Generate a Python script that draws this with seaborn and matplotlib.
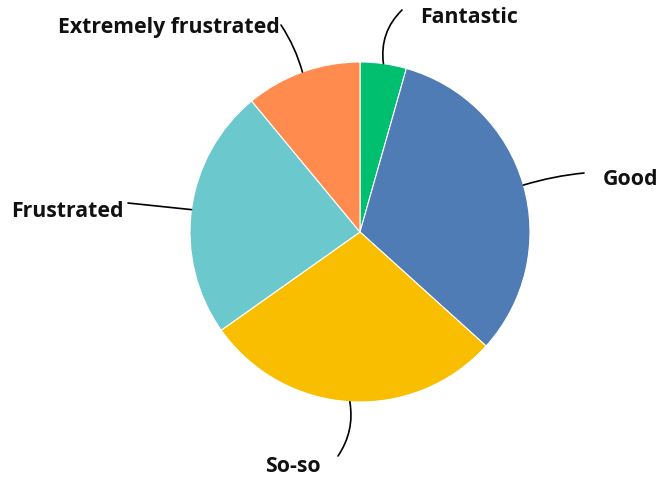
import numpy as np
import matplotlib.pyplot as plt
import seaborn as sns

# Valores (porcentaje aproximado)
categorias = ['Fantastic', 'Good', 'So-so', 'Frustrated', 'Extremely frustrated']
valores = [4.4, 32.3, 28.5, 23.8, 11.0]
colores = ['#00BF6F', '#507CB6', '#F9BE00', '#6BC8CD', '#FF8B4F']


def main():
    sns.set_theme(style="white")
    plt.rcParams['font.family'] = ['Open Sans', 'DejaVu Sans']

    fig = plt.figure(figsize=(6.6, 4.78), dpi=100)
    ax = fig.add_axes([0, 0, 1, 1])

    cx, cy, r = 360, 246, 170
    wedges, _ = ax.pie(valores, colors=colores, startangle=90, counterclock=False,
                       center=(cx, cy), radius=r,
                       wedgeprops=dict(edgecolor='white', linewidth=0.8))
    ax.set_xlim(0, 660)
    ax.set_ylim(0, 478)
    ax.set_aspect('equal')
    ax.axis('off')

    # fin de la linea guia, posicion del texto, alineacion y curvatura
    etiquetas = {
        'Fantastic': ((402, 468), (420, 461), 'left', 0.25),
        'Good': ((584, 305), (603, 299), 'left', 0.05),
        'So-so': ((338, 22), (293, 12), 'center', 0.2),
        'Frustrated': ((128, 275), (124, 267), 'right', 0.0),
        'Extremely frustrated': ((281, 453), (280, 451), 'right', -0.08),
    }

    for w, cat in zip(wedges, categorias):
        ang = np.deg2rad((w.theta1 + w.theta2) / 2)
        px = cx + r * np.cos(ang)
        py = cy + r * np.sin(ang)
        fin, pos_txt, ha, rad = etiquetas[cat]
        ax.annotate('', xy=(px, py), xytext=fin,
                    arrowprops=dict(arrowstyle='-', color='black', lw=1.2,
                                    shrinkA=0, shrinkB=0,
                                    connectionstyle=f'arc3,rad={rad}'))
        ax.text(pos_txt[0], pos_txt[1], cat, ha=ha, va='center',
                fontsize=15.3, fontweight='bold', color='#111111')

    fig.savefig('out.png', dpi=100)
    plt.close(fig)


if __name__ == "__main__":
    main()
